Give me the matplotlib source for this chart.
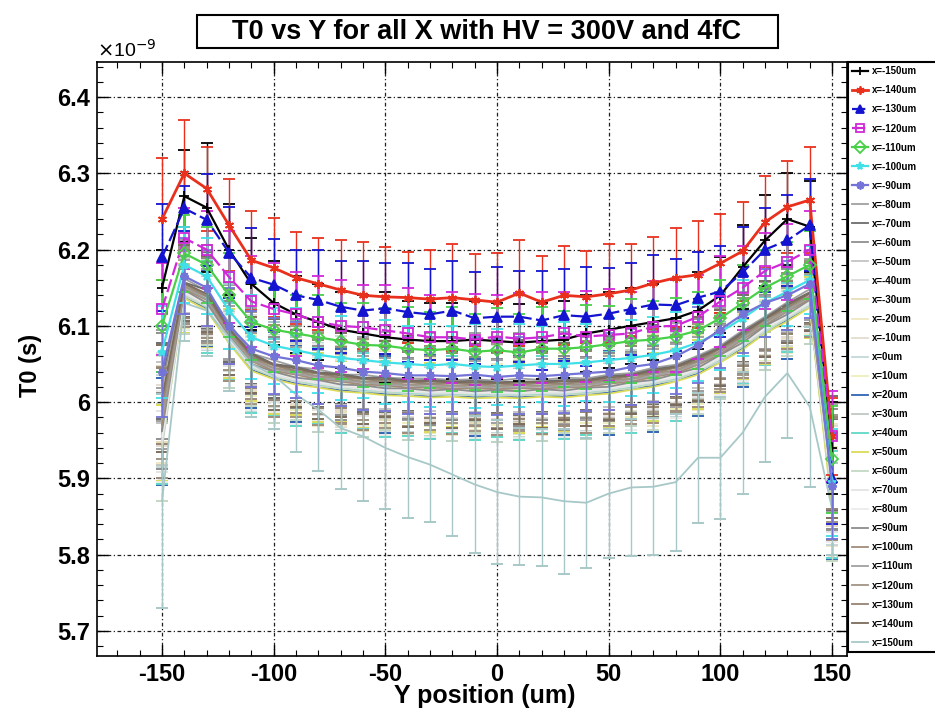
import matplotlib
matplotlib.use("Agg")
import matplotlib.pyplot as plt
import matplotlib.patches as patches
from matplotlib.ticker import MultipleLocator, FuncFormatter

plt.rcParams['font.family'] = ['Liberation Sans', 'DejaVu Sans']
plt.rcParams['axes.unicode_minus'] = False

# Y position of the scan (um)
y_pos = [-150, -140, -130, -120, -110, -100, -90, -80, -70, -60, -50, -40, -30, -20, -10,
         0, 10, 20, 30, 40, 50, 60, 70, 80, 90, 100, 110, 120, 130, 140, 150]

# X positions, one curve each
x_pos = [-150, -140, -130, -120, -110, -100, -90, -80, -70, -60, -50, -40, -30, -20, -10,
         0, 10, 20, 30, 40, 50, 60, 70, 80, 90, 100, 110, 120, 130, 140, 150]

# T0 in units of 1e-9 s
t0_m150 = [6.150, 6.270, 6.255, 6.200, 6.155, 6.130, 6.115, 6.105, 6.095, 6.090, 6.085, 6.082, 6.080, 6.080, 6.082, 6.080, 6.078, 6.080, 6.082, 6.090, 6.095, 6.100, 6.105, 6.110, 6.120, 6.140, 6.177, 6.212, 6.240, 6.230, 5.940]
t0_m140 = [6.240, 6.300, 6.280, 6.232, 6.186, 6.176, 6.163, 6.155, 6.147, 6.140, 6.138, 6.137, 6.135, 6.137, 6.134, 6.131, 6.143, 6.131, 6.140, 6.138, 6.142, 6.147, 6.156, 6.163, 6.167, 6.182, 6.198, 6.236, 6.256, 6.265, 5.955]
t0_m130 = [6.190, 6.254, 6.239, 6.196, 6.163, 6.154, 6.140, 6.134, 6.125, 6.120, 6.123, 6.118, 6.115, 6.120, 6.110, 6.112, 6.112, 6.107, 6.114, 6.112, 6.116, 6.122, 6.128, 6.127, 6.137, 6.145, 6.170, 6.200, 6.212, 6.232, 5.900]
t0_m120 = [6.122, 6.215, 6.200, 6.164, 6.132, 6.122, 6.115, 6.105, 6.100, 6.098, 6.094, 6.090, 6.085, 6.085, 6.082, 6.086, 6.083, 6.085, 6.090, 6.086, 6.088, 6.090, 6.099, 6.100, 6.112, 6.132, 6.150, 6.172, 6.184, 6.200, 5.955]
t0_m110 = [6.100, 6.195, 6.180, 6.140, 6.105, 6.095, 6.090, 6.085, 6.080, 6.075, 6.074, 6.070, 6.068, 6.070, 6.066, 6.068, 6.065, 6.070, 6.070, 6.072, 6.076, 6.080, 6.082, 6.086, 6.094, 6.110, 6.130, 6.150, 6.165, 6.180, 5.925]
t0_m100 = [6.066, 6.180, 6.165, 6.120, 6.085, 6.074, 6.068, 6.062, 6.058, 6.055, 6.052, 6.050, 6.048, 6.050, 6.047, 6.046, 6.048, 6.050, 6.050, 6.052, 6.055, 6.058, 6.062, 6.068, 6.078, 6.092, 6.110, 6.130, 6.145, 6.160, 5.895]
t0_m90 = [6.040, 6.165, 6.150, 6.100, 6.070, 6.060, 6.055, 6.048, 6.045, 6.040, 6.038, 6.035, 6.035, 6.034, 6.036, 6.033, 6.035, 6.034, 6.036, 6.038, 6.040, 6.046, 6.050, 6.060, 6.075, 6.095, 6.115, 6.130, 6.140, 6.155, 5.890]
t0_m80 = [6.035, 6.162, 6.146, 6.104, 6.064, 6.055, 6.046, 6.043, 6.036, 6.036, 6.032, 6.031, 6.031, 6.029, 6.030, 6.028, 6.031, 6.029, 6.032, 6.031, 6.036, 6.038, 6.045, 6.049, 6.061, 6.074, 6.094, 6.112, 6.131, 6.148, 5.928]
t0_m70 = [6.028, 6.157, 6.147, 6.097, 6.064, 6.050, 6.046, 6.039, 6.037, 6.032, 6.032, 6.028, 6.029, 6.027, 6.028, 6.026, 6.027, 6.027, 6.029, 6.029, 6.034, 6.036, 6.043, 6.047, 6.059, 6.072, 6.092, 6.110, 6.129, 6.144, 5.918]
t0_m60 = [6.021, 6.155, 6.140, 6.096, 6.059, 6.049, 6.041, 6.038, 6.032, 6.031, 6.027, 6.027, 6.024, 6.026, 6.023, 6.025, 6.023, 6.026, 6.024, 6.028, 6.029, 6.035, 6.038, 6.046, 6.054, 6.071, 6.087, 6.109, 6.124, 6.143, 5.911]
t0_m50 = [6.012, 6.152, 6.139, 6.091, 6.058, 6.044, 6.040, 6.033, 6.031, 6.026, 6.026, 6.022, 6.023, 6.021, 6.022, 6.020, 6.022, 6.021, 6.023, 6.023, 6.028, 6.030, 6.037, 6.041, 6.053, 6.066, 6.086, 6.104, 6.123, 6.138, 5.906]
t0_m40 = [6.004, 6.151, 6.134, 6.091, 6.054, 6.044, 6.036, 6.033, 6.027, 6.026, 6.022, 6.022, 6.019, 6.021, 6.018, 6.020, 6.018, 6.021, 6.019, 6.023, 6.024, 6.030, 6.033, 6.041, 6.049, 6.066, 6.082, 6.104, 6.119, 6.138, 5.899]
t0_m30 = [5.997, 6.147, 6.134, 6.087, 6.054, 6.040, 6.036, 6.029, 6.027, 6.022, 6.022, 6.018, 6.019, 6.017, 6.018, 6.016, 6.018, 6.017, 6.019, 6.019, 6.024, 6.026, 6.033, 6.037, 6.049, 6.062, 6.082, 6.100, 6.119, 6.134, 5.897]
t0_m20 = [5.990, 6.147, 6.130, 6.087, 6.050, 6.040, 6.032, 6.029, 6.023, 6.022, 6.018, 6.018, 6.015, 6.017, 6.014, 6.016, 6.014, 6.017, 6.015, 6.019, 6.020, 6.026, 6.029, 6.037, 6.045, 6.062, 6.078, 6.100, 6.115, 6.134, 5.891]
t0_m10 = [5.982, 6.144, 6.131, 6.084, 6.051, 6.037, 6.033, 6.026, 6.024, 6.019, 6.019, 6.015, 6.016, 6.014, 6.015, 6.013, 6.015, 6.014, 6.016, 6.016, 6.021, 6.023, 6.030, 6.034, 6.046, 6.059, 6.079, 6.097, 6.116, 6.131, 5.889]
t0_0 = [5.975, 6.145, 6.128, 6.085, 6.048, 6.038, 6.030, 6.027, 6.021, 6.020, 6.016, 6.016, 6.013, 6.015, 6.012, 6.014, 6.012, 6.015, 6.013, 6.017, 6.018, 6.024, 6.027, 6.035, 6.043, 6.060, 6.076, 6.098, 6.113, 6.132, 5.883]
t0_10 = [5.968, 6.141, 6.128, 6.081, 6.048, 6.034, 6.030, 6.023, 6.021, 6.016, 6.016, 6.012, 6.013, 6.011, 6.012, 6.010, 6.012, 6.011, 6.013, 6.013, 6.018, 6.020, 6.027, 6.031, 6.043, 6.056, 6.076, 6.094, 6.113, 6.128, 5.881]
t0_20 = [5.961, 6.139, 6.122, 6.079, 6.042, 6.032, 6.024, 6.021, 6.015, 6.014, 6.010, 6.010, 6.007, 6.009, 6.006, 6.008, 6.006, 6.009, 6.007, 6.011, 6.012, 6.018, 6.021, 6.029, 6.037, 6.054, 6.070, 6.092, 6.107, 6.126, 5.874]
t0_30 = [5.958, 6.143, 6.126, 6.083, 6.046, 6.036, 6.028, 6.025, 6.019, 6.018, 6.014, 6.014, 6.011, 6.013, 6.010, 6.012, 6.010, 6.013, 6.011, 6.015, 6.016, 6.022, 6.025, 6.033, 6.041, 6.058, 6.074, 6.096, 6.111, 6.130, 5.870]
t0_40 = [5.952, 6.140, 6.125, 6.080, 6.046, 6.033, 6.028, 6.022, 6.019, 6.015, 6.014, 6.011, 6.011, 6.010, 6.010, 6.009, 6.010, 6.010, 6.011, 6.012, 6.016, 6.019, 6.025, 6.030, 6.041, 6.055, 6.074, 6.093, 6.111, 6.127, 5.866]
t0_50 = [5.946, 6.136, 6.121, 6.077, 6.041, 6.030, 6.023, 6.019, 6.014, 6.012, 6.009, 6.008, 6.006, 6.007, 6.005, 6.006, 6.005, 6.007, 6.006, 6.009, 6.011, 6.016, 6.020, 6.027, 6.036, 6.052, 6.069, 6.090, 6.106, 6.124, 5.860]
t0_60 = [5.940, 6.139, 6.125, 6.079, 6.045, 6.033, 6.027, 6.021, 6.018, 6.014, 6.013, 6.010, 6.010, 6.009, 6.009, 6.008, 6.009, 6.009, 6.010, 6.011, 6.015, 6.018, 6.024, 6.029, 6.040, 6.054, 6.073, 6.092, 6.110, 6.126, 5.872]
t0_70 = [5.948, 6.142, 6.127, 6.082, 6.047, 6.035, 6.029, 6.024, 6.020, 6.017, 6.015, 6.013, 6.012, 6.012, 6.011, 6.011, 6.011, 6.012, 6.012, 6.014, 6.017, 6.021, 6.026, 6.032, 6.042, 6.057, 6.075, 6.095, 6.112, 6.129, 5.880]
t0_80 = [5.955, 6.144, 6.129, 6.084, 6.049, 6.037, 6.031, 6.026, 6.022, 6.019, 6.017, 6.015, 6.014, 6.014, 6.013, 6.013, 6.013, 6.014, 6.014, 6.016, 6.019, 6.023, 6.028, 6.034, 6.044, 6.059, 6.077, 6.097, 6.114, 6.131, 5.886]
t0_90 = [5.962, 6.147, 6.130, 6.087, 6.050, 6.040, 6.032, 6.029, 6.023, 6.022, 6.018, 6.018, 6.015, 6.017, 6.014, 6.016, 6.014, 6.017, 6.015, 6.019, 6.020, 6.026, 6.029, 6.037, 6.045, 6.062, 6.078, 6.100, 6.115, 6.134, 5.893]
t0_100 = [5.970, 6.148, 6.134, 6.088, 6.054, 6.041, 6.036, 6.030, 6.027, 6.023, 6.022, 6.019, 6.019, 6.018, 6.018, 6.017, 6.018, 6.018, 6.019, 6.020, 6.024, 6.027, 6.033, 6.038, 6.049, 6.063, 6.082, 6.101, 6.119, 6.135, 5.899]
t0_110 = [5.978, 6.151, 6.135, 6.091, 6.055, 6.044, 6.037, 6.033, 6.028, 6.026, 6.023, 6.022, 6.020, 6.021, 6.019, 6.020, 6.019, 6.021, 6.020, 6.023, 6.025, 6.030, 6.034, 6.041, 6.050, 6.066, 6.083, 6.104, 6.120, 6.138, 5.906]
t0_120 = [5.986, 6.152, 6.138, 6.092, 6.058, 6.045, 6.040, 6.034, 6.031, 6.027, 6.026, 6.023, 6.023, 6.022, 6.022, 6.021, 6.022, 6.022, 6.023, 6.024, 6.028, 6.031, 6.037, 6.042, 6.053, 6.067, 6.086, 6.105, 6.123, 6.139, 5.913]
t0_130 = [5.995, 6.155, 6.139, 6.095, 6.059, 6.048, 6.041, 6.037, 6.032, 6.030, 6.027, 6.026, 6.024, 6.025, 6.023, 6.024, 6.023, 6.025, 6.024, 6.027, 6.029, 6.034, 6.038, 6.045, 6.054, 6.070, 6.087, 6.108, 6.124, 6.142, 5.920]
t0_140 = [6.005, 6.156, 6.142, 6.096, 6.062, 6.049, 6.044, 6.038, 6.035, 6.031, 6.030, 6.027, 6.027, 6.026, 6.026, 6.025, 6.026, 6.026, 6.027, 6.028, 6.032, 6.035, 6.041, 6.046, 6.057, 6.071, 6.090, 6.109, 6.127, 6.143, 5.928]
t0_150 = [5.870, 6.130, 6.120, 6.085, 6.050, 6.035, 6.010, 5.990, 5.966, 5.955, 5.940, 5.928, 5.918, 5.905, 5.892, 5.882, 5.876, 5.875, 5.870, 5.868, 5.880, 5.888, 5.889, 5.895, 5.927, 5.927, 5.960, 6.007, 6.038, 5.994, 5.860]

# errors (1e-9 s)
err_m150 = [0.05, 0.06, 0.085, 0.06, 0.06, 0.055, 0.05, 0.05, 0.05, 0.05, 0.06, 0.05, 0.05, 0.05, 0.05, 0.05, 0.05, 0.05, 0.05, 0.05, 0.05, 0.05, 0.05, 0.05, 0.05, 0.05, 0.055, 0.06, 0.06, 0.06, 0.06]
err_m140 = [0.08, 0.07, 0.055, 0.06, 0.065, 0.065, 0.06, 0.06, 0.065, 0.07, 0.065, 0.06, 0.065, 0.07, 0.06, 0.065, 0.07, 0.06, 0.065, 0.06, 0.065, 0.06, 0.06, 0.065, 0.07, 0.065, 0.065, 0.06, 0.06, 0.07, 0.05]
err_m130 = [0.07, 0.03, 0.06, 0.06, 0.065, 0.06, 0.06, 0.065, 0.06, 0.065, 0.06, 0.065, 0.06, 0.065, 0.06, 0.065, 0.06, 0.065, 0.06, 0.065, 0.06, 0.06, 0.065, 0.06, 0.06, 0.06, 0.06, 0.055, 0.06, 0.06, 0.06]
err_m120 = [0.06, 0.04, 0.05, 0.06, 0.06, 0.06, 0.055, 0.06, 0.06, 0.055, 0.06, 0.06, 0.055, 0.06, 0.06, 0.055, 0.06, 0.06, 0.055, 0.06, 0.06, 0.055, 0.06, 0.06, 0.055, 0.06, 0.055, 0.05, 0.05, 0.05, 0.06]
err_m110 = [0.06, 0.05, 0.05, 0.055, 0.05, 0.055, 0.05, 0.055, 0.05, 0.055, 0.05, 0.055, 0.05, 0.055, 0.05, 0.055, 0.05, 0.055, 0.05, 0.055, 0.05, 0.055, 0.05, 0.05, 0.05, 0.05, 0.05, 0.05, 0.045, 0.045, 0.07]
err_m100 = [0.06, 0.05, 0.05, 0.05, 0.055, 0.05, 0.055, 0.05, 0.055, 0.05, 0.055, 0.05, 0.055, 0.05, 0.055, 0.05, 0.055, 0.05, 0.055, 0.05, 0.055, 0.05, 0.05, 0.05, 0.05, 0.05, 0.05, 0.045, 0.045, 0.045, 0.07]
err_m90 = [0.06, 0.05, 0.05, 0.05, 0.05, 0.05, 0.05, 0.05, 0.05, 0.05, 0.05, 0.05, 0.05, 0.05, 0.05, 0.05, 0.05, 0.05, 0.05, 0.05, 0.05, 0.05, 0.05, 0.05, 0.05, 0.05, 0.05, 0.045, 0.045, 0.045, 0.07]
err_w = [0.06, 0.05, 0.06, 0.05, 0.06, 0.05, 0.06, 0.05, 0.06, 0.05, 0.06, 0.055, 0.06, 0.05, 0.06, 0.055, 0.06, 0.05, 0.06, 0.055, 0.05, 0.06, 0.05, 0.055, 0.05, 0.05, 0.05, 0.045, 0.045, 0.04, 0.07]
err_x = [0.05, 0.045, 0.05, 0.045, 0.04, 0.045, 0.04, 0.045, 0.04, 0.045, 0.045, 0.04, 0.045, 0.04, 0.045, 0.04, 0.045, 0.04, 0.045, 0.04, 0.045, 0.04, 0.045, 0.04, 0.045, 0.04, 0.04, 0.04, 0.035, 0.04, 0.06]
err_y = [0.07, 0.05, 0.05, 0.06, 0.05, 0.06, 0.05, 0.06, 0.055, 0.06, 0.05, 0.06, 0.055, 0.06, 0.05, 0.06, 0.055, 0.06, 0.05, 0.06, 0.055, 0.05, 0.06, 0.05, 0.055, 0.05, 0.05, 0.05, 0.05, 0.05, 0.08]
err_z = [0.04, 0.035, 0.04, 0.035, 0.035, 0.035, 0.035, 0.035, 0.035, 0.035, 0.035, 0.035, 0.035, 0.035, 0.035, 0.035, 0.035, 0.035, 0.035, 0.035, 0.035, 0.035, 0.035, 0.035, 0.035, 0.035, 0.035, 0.035, 0.03, 0.03, 0.05]
err_150 = [0.14, 0.05, 0.06, 0.07, 0.07, 0.07, 0.075, 0.08, 0.08, 0.085, 0.08, 0.08, 0.075, 0.08, 0.09, 0.095, 0.09, 0.09, 0.095, 0.085, 0.085, 0.09, 0.09, 0.09, 0.085, 0.08, 0.08, 0.085, 0.085, 0.105, 0.06]

t0_all = [t0_m150, t0_m140, t0_m130, t0_m120, t0_m110, t0_m100, t0_m90, t0_m80, t0_m70,
          t0_m60, t0_m50, t0_m40, t0_m30, t0_m20, t0_m10, t0_0, t0_10, t0_20, t0_30, t0_40,
          t0_50, t0_60, t0_70, t0_80, t0_90, t0_100, t0_110, t0_120, t0_130, t0_140, t0_150]
err_all = [err_m150, err_m140, err_m130, err_m120, err_m110, err_m100, err_m90,
           err_w, err_x, err_y, err_z, err_w, err_x, err_y, err_z, err_w, err_x, err_y,
           err_z, err_w, err_x, err_y, err_z, err_w, err_x, err_y, err_z, err_w, err_x, err_y, err_150]

colors = ['black', '#e8301c', '#1414d0', '#d028d8', '#48d048', '#40e0e8', '#7474d8',
          '#a0a0a0', '#6c6c6c', '#909090', '#c4c4c4', '#dadada', '#e8dcb8', '#f0e8c4',
          '#e4dcd0', '#c4d8d8', '#eeeebc', '#3264b4', '#c0c8c0', '#60d8c8', '#dcdc58',
          '#c4d8c4', '#e4e4e4', '#ececec', '#8c8c8c', '#a08c7c', '#a0a0a0', '#a09484',
          '#948474', '#7c6c5c', '#a8c8c8']
markers = ['+', (6, 2, 0), '^', 's', 'D', '*', (8, 2, 0)]

fig = plt.figure(figsize=(9.35, 7.18), dpi=100)
ax = fig.add_axes([97/935, 1-656/718, (847-97)/935, (656-62)/718])

handles = []
for i, (xp, vals, err) in enumerate(zip(x_pos, t0_all, err_all)):
    c = colors[i]
    if i < 7:
        mk = markers[i]
        fc = 'none' if mk in ('s', 'D') else c
        ls = (0, (6, 2)) if i in (2, 3) else '-'
        lw = 2.0 if i == 1 else 1.6
        eb = ax.errorbar(y_pos, vals, yerr=err, color=c, marker=mk, ms=6.5, mfc=fc, mec=c,
                         mew=1.3, lw=lw, ls=ls, elinewidth=1.0, capsize=4, capthick=1.4,
                         zorder=3 + 0.01 * i)
    else:
        eb = ax.errorbar(y_pos, vals, yerr=err, color=c, lw=1.3, elinewidth=1.0,
                         capsize=4, capthick=1.4, zorder=2 + 0.01 * i)
    handles.append(eb[0])

ax.set_xlim(-179.1, 156.7)
ax.set_ylim(5.667, 6.446)
ax.xaxis.set_major_locator(MultipleLocator(50))
ax.xaxis.set_minor_locator(MultipleLocator(10))
ax.yaxis.set_major_locator(MultipleLocator(0.1))
ax.yaxis.set_minor_locator(MultipleLocator(0.02))
ax.yaxis.set_major_formatter(FuncFormatter(lambda v, p: '%g' % round(v, 2)))
ax.tick_params(which='both', direction='in', top=True, right=True)
ax.tick_params(which='major', length=8, width=1.0, labelsize=17, pad=5)
ax.tick_params(which='minor', length=4, width=0.8)
for lab in ax.get_xticklabels() + ax.get_yticklabels():
    lab.set_fontweight('bold')
ax.grid(which='major', color='#202020', linestyle=(0, (3, 2, 1, 2)), lw=0.9)
for sp in ax.spines.values():
    sp.set_linewidth(1.2)

fig.text(30/935, 1-365/718, 'T0 (s)', rotation=90, ha='center', va='center',
         fontsize=17, fontweight='bold')
fig.text(485/935, 1-696/718, 'Y position (um)', ha='center', va='center',
         fontsize=18, fontweight='bold')
fig.text(97/935, 1-50/718, r'$\times$10$^{-9}$', ha='left', va='center', fontsize=14)

# title box
fig.patches.append(patches.Rectangle((197/935, 1-48/718), (778-197)/935, 33/718,
                                     transform=fig.transFigure, fill=False,
                                     edgecolor='black', lw=1.5))
fig.text(487/935, 1-32/718, 'T0 vs Y for all X with HV = 300V and 4fC',
         ha='center', va='center', fontsize=19.5, fontweight='bold',
         family=['Liberation Sans Narrow', 'Liberation Sans', 'DejaVu Sans'])

labels = ['x=%dum' % v for v in x_pos]
leg = fig.legend(handles, labels, loc='upper left',
                 bbox_to_anchor=(848/935, 1-62/718, 0.2, 0.0), mode='expand',
                 fontsize=7, labelspacing=0.93, handlelength=1.6, handletextpad=0.4,
                 borderaxespad=0, borderpad=0.45, fancybox=False, framealpha=1,
                 edgecolor='black', markerscale=0.9)
leg.get_frame().set_linewidth(1.5)
for t in leg.get_texts():
    t.set_fontweight('bold')

fig.savefig('out.png', dpi=100)
